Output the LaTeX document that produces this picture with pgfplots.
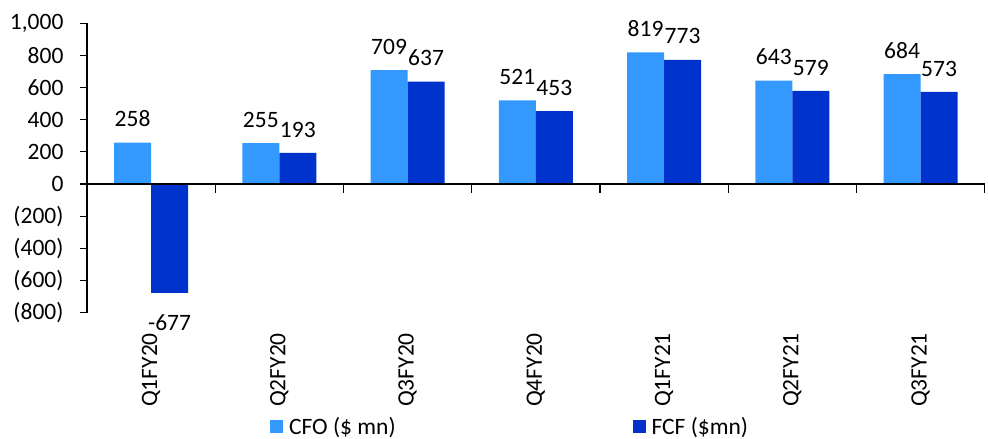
\documentclass[border=0pt]{standalone}
\usepackage{fontspec}
\setmainfont{Carlito}
\usepackage{pgfplots}
\pgfplotsset{compat=1.18}
\definecolor{cfo}{RGB}{51,153,255}
\definecolor{fcf}{RGB}{0,51,204}
\newcommand{\fsz}{\fontsize{23.5}{28}\selectfont}
\begin{document}
\begin{tikzpicture}
\begin{axis}[
  at={(0pt,0pt)}, anchor=south west,
  scale only axis, width=898pt, height=289.4pt,
  xmin=-0.5, xmax=6.5, ymin=-800, ymax=1000,
  clip=false,
  axis lines*=left,
  x axis line style={draw=none},
  y axis line style={line width=1.2pt},
  xtick={0,1,2,3,4,5,6},
  xticklabels={Q1FY20,Q2FY20,Q3FY20,Q4FY20,Q1FY21,Q2FY21,Q3FY21},
  x tick label style={font=\fsz, rotate=90, anchor=east, xshift=-10pt},
  ytick={-800,-600,-400,-200,0,200,400,600,800,1000},
  yticklabels={(800),(600),(400),(200),0,200,400,600,800,{1,000}},
  y tick label style={font=\fsz, xshift=-13pt},
  y tick style={line width=1.2pt, black},
  x tick style={line width=0pt, draw opacity=0},
  tick align=outside, major tick length=7pt,
  legend style={at={(axis description cs:0.2038,-0.394)}, anchor=west, draw=none, fill=none, inner sep=0pt,
    font=\fsz, legend columns=2,
    /tikz/every even column/.append style={column sep=231pt},
    nodes={inner xsep=6pt}},
  legend cell align=left,
  legend image code/.code={\fill[#1] (0pt,-6.5pt) rectangle (13pt,6.5pt);},
]
\addplot[ybar, bar width=37pt, bar shift=-18.5pt, fill=cfo, draw=none,
  point meta=explicit symbolic, nodes near coords,
  every node near coord/.append style={font=\fsz, inner sep=0pt, black, anchor=south, xshift=-18.5pt, yshift=15.5pt}]
  coordinates {(0,258) [258] (1,255) [255] (2,709) [709] (3,521) [521] (4,819) [819] (5,643) [643] (6,684) [684]};
\addlegendentry{CFO (\$ mn)}
\addplot[ybar, bar width=37pt, bar shift=18.5pt, fill=fcf, draw=none,
  point meta=explicit symbolic, nodes near coords,
  every node near coord/.append style={font=\fsz, inner sep=0pt, black, anchor=south, xshift=18.5pt, yshift=15.5pt}]
  coordinates {(0,-677) [{}] (1,193) [193] (2,637) [637] (3,453) [453] (4,773) [773] (5,579) [579] (6,573) [573]};
\addlegendentry{FCF (\$mn)}
\addplot[ybar, bar width=37pt, bar shift=18.5pt, fill=fcf, draw=none, forget plot,
  point meta=explicit symbolic, nodes near coords,
  every node near coord/.append style={font=\fsz, inner sep=0pt, black, anchor=north, xshift=18.5pt, yshift=-22pt}]
  coordinates {(0,-677) [-677]};
\end{axis}
% overlay axis: zero line with boundary ticks drawn by pgfplots itself
\begin{axis}[
  at={(0pt,0pt)}, anchor=south west,
  scale only axis, width=898pt, height=289.4pt,
  xmin=-0.5, xmax=6.5, ymin=-800, ymax=1000,
  axis x line*=middle, axis y line=none,
  x axis line style={line width=1.2pt, black},
  xtick={-0.5,0.5,1.5,2.5,3.5,4.5,5.5,6.5},
  xticklabels={},
  xtick align=outside,
  major tick length=9pt,
  x tick style={line width=1.2pt, black},
]
\end{axis}
\useasboundingbox (-87pt,-126.3pt) rectangle (901pt,312.7pt);
\end{tikzpicture}
\end{document}
